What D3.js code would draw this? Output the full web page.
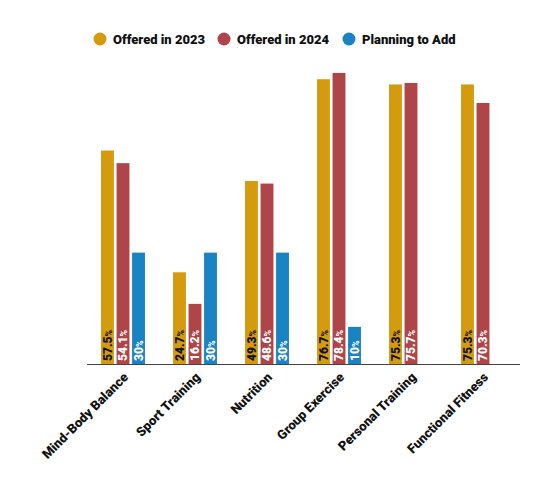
<!DOCTYPE html>
<html>
<head>
<meta charset="utf-8">
<script src="https://cdn.jsdelivr.net/npm/d3@7"></script>
<style>
html,body{margin:0;padding:0;background:#fff;}
svg{display:block;font-family:Roboto, "Noto Sans", sans-serif;}
</style>
</head>
<body>
<svg id="chart" width="550" height="498"></svg>
<script>
const categories = ["Mind-Body Balance","Sport Training","Nutrition","Group Exercise","Personal Training","Functional Fitness"];
const seriesNames = ["Offered in 2023","Offered in 2024","Planning to Add"];
const offered2023 = [57.5, 24.7, 49.3, 76.7, 75.3, 75.3];
const offered2024 = [54.1, 16.2, 48.6, 78.4, 75.7, 70.3];
const planningToAdd = [30, 30, 30, 10, null, null];
const colors = ["#D49B0F", "#AF4449", "#1A83C4"];
const labelColors = ["#111", "#fff", "#fff"];

const seriesValues = [offered2023, offered2024, planningToAdd];
const svg = d3.select("#chart");

const x = d3.scaleBand().domain(categories).range([87, 519]).paddingInner(0.39).paddingOuter(0.195);
const xs = d3.scaleBand().domain(seriesNames).range([0, x.bandwidth()]).paddingInner(0.17);
const y = d3.scaleLinear().domain([0, 80]).range([364, 67]);

categories.forEach((c, i) => {
  seriesNames.forEach((s, j) => {
    const v = seriesValues[j][i];
    if (v == null) return;
    const g = svg.append("g");
    const bx = x(c) + xs(s);
    g.append("rect")
      .attr("x", bx).attr("y", y(v))
      .attr("width", xs.bandwidth()).attr("height", y(0) - y(v))
      .attr("fill", colors[j]);
    const t = g.append("text")
      .attr("transform", `translate(${bx + xs.bandwidth()/2 + 4.2},${y(0) - 3}) rotate(-90)`)
      .attr("fill", labelColors[j])
      .attr("font-weight", 900)
      .attr("font-size", 12);
    t.append("tspan").text(String(v));
    t.append("tspan").attr("font-size", 9).text("%");
  });
});

const xAxis = svg.append("g").attr("transform", `translate(0,${y(0)})`)
  .call(d3.axisBottom(x).tickSize(0).tickPadding(0));
xAxis.select(".domain").attr("stroke", "#444").attr("d", `M87,0.5H520`);
xAxis.selectAll("text")
  .attr("font-family", "Roboto, sans-serif")
  .attr("font-size", 13)
  .attr("font-weight", 900)
  .attr("fill", "#111")
  .attr("text-anchor", "end")
  .attr("dy", null)
  .attr("transform", "translate(6,14) rotate(-45)");

const legendX = [100, 224, 349];
const legend = svg.append("g");
seriesNames.forEach((s, j) => {
  legend.append("circle").attr("cx", legendX[j]).attr("cy", 39).attr("r", 6.5).attr("fill", colors[j]);
  legend.append("text").attr("x", legendX[j] + 13).attr("y", 43.5)
    .attr("font-size", 13).attr("font-weight", 900).attr("fill", "#111").text(s);
});
</script>
</body>
</html>
